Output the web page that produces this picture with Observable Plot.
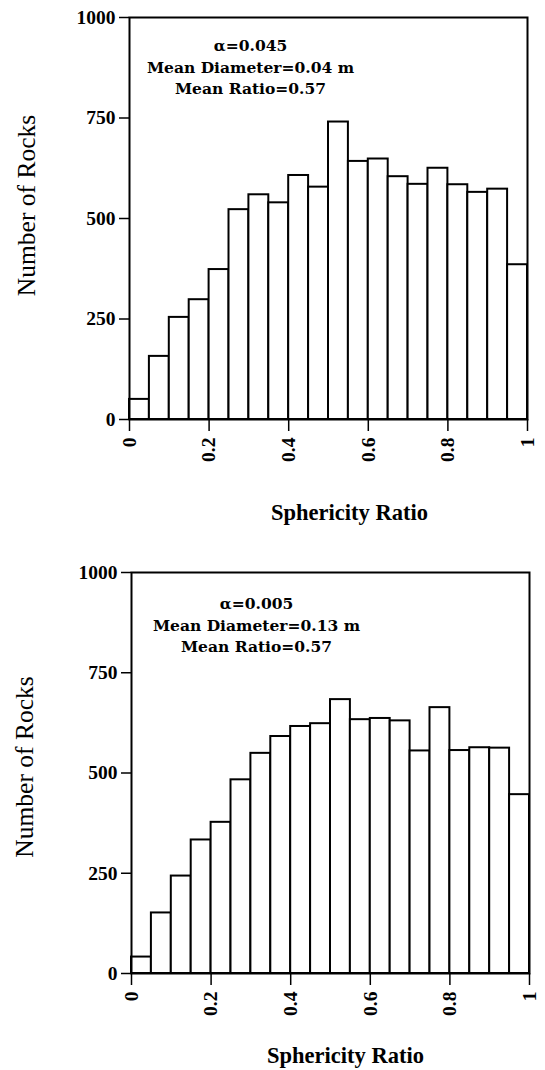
<!DOCTYPE html>
<html><head><meta charset="utf-8">
<script src="https://cdn.jsdelivr.net/npm/d3@7"></script>
<script src="https://cdn.jsdelivr.net/npm/@observablehq/plot@0.6"></script>
<style>
body{margin:0;background:#fff;}
#chart svg{display:block;}
</style></head><body><div id="chart"></div>
<script>
// Bin edges (sphericity ratio)
const binLo = [0, 0.05, 0.1, 0.15, 0.2, 0.25, 0.3, 0.35, 0.4, 0.45, 0.5, 0.55, 0.6, 0.65, 0.7, 0.75, 0.8, 0.85, 0.9, 0.95];
const binHi = [0.05, 0.1, 0.15, 0.2, 0.25, 0.3, 0.35, 0.4, 0.45, 0.5, 0.55, 0.6, 0.65, 0.7, 0.75, 0.8, 0.85, 0.9, 0.95, 1];
// Counts
const countsTop = [50, 157, 254, 298, 373, 522, 559, 539, 607, 578, 740, 642, 648, 604, 585, 625, 584, 565, 573, 385];
const countsBottom = [41, 151, 243, 333, 377, 483, 549, 591, 616, 623, 683, 633, 636, 630, 555, 663, 556, 563, 562, 446];
// Ticks and labels
const yTicks = [0, 250, 500, 750, 1000];
const xTicks = [0, 0.2, 0.4, 0.6, 0.8, 1];
const annotTop = ["α=0.045", "Mean Diameter=0.04 m", "Mean Ratio=0.57"];
const annotBottom = ["α=0.005", "Mean Diameter=0.13 m", "Mean Ratio=0.57"];
const xLabel = "Sphericity Ratio";
const yLabel = "Number of Rocks";

const SERIF = "'Liberation Serif', 'Times New Roman', Times, serif";
const WIDE_SERIF = "'DejaVu Serif', serif";

function panel(counts, annot, L) {
  const data = counts.map((n, i) => ({lo: binLo[i], hi: binHi[i], n}));
  return Plot.plot({
    width: 545, height: 535,
    marginTop: L.mt, marginBottom: L.mb, marginLeft: L.ml, marginRight: L.mr,
    style: {fontFamily: SERIF, background: "white", color: "black"},
    x: {domain: [0, 1]},
    y: {domain: [0, 1000]},
    marks: [
      Plot.rectY(data, {x1: "lo", x2: "hi", y: "n", fill: "white", stroke: "black", strokeWidth: 2}),
      Plot.frame({stroke: "black", strokeWidth: 2}),
      Plot.axisY({ticks: yTicks, tickSize: 10, tickPadding: 4, tickFormat: d => String(d),
        fontSize: 19.5, fontWeight: "bold", label: null, strokeWidth: 1.5}),
      Plot.axisX({ticks: xTicks, tickSize: 12, tickPadding: 6, tickRotate: -90, tickFormat: d => String(d),
        fontSize: 19.5, fontWeight: "bold", label: null, strokeWidth: 1.5}),
      Plot.text([annot.join("\n")], {frameAnchor: "top-left", dx: L.adx, dy: L.ady, lineAnchor: "top",
        lineHeight: 1.36, fontSize: 15.5, fontWeight: "bold", fontFamily: WIDE_SERIF, textAnchor: "middle"}),
      Plot.text([xLabel], {frameAnchor: "bottom", dx: L.xdx, dy: L.xdy, textAnchor: "middle", lineAnchor: "bottom",
        fontSize: 22.5, fontWeight: "bold"}),
      Plot.text([yLabel], {frameAnchor: "left", rotate: -90, dx: L.ydx, dy: L.ydy, textAnchor: "middle", lineAnchor: "middle",
        fontSize: 25.5})
    ]
  });
}

const root = document.getElementById("chart");
root.appendChild(panel(countsTop, annotTop,
  {mt: 17, mb: 116, ml: 129, mr: 18, adx: 121, ady: 19, xdx: 21, xdy: 100, ydx: -103, ydy: -13}));
root.appendChild(panel(countsBottom, annotBottom,
  {mt: 37, mb: 97, ml: 131, mr: 16, adx: 125, ady: 22, xdx: 15, xdy: 89, ydx: -107, ydy: -6}));
</script>
</body></html>
